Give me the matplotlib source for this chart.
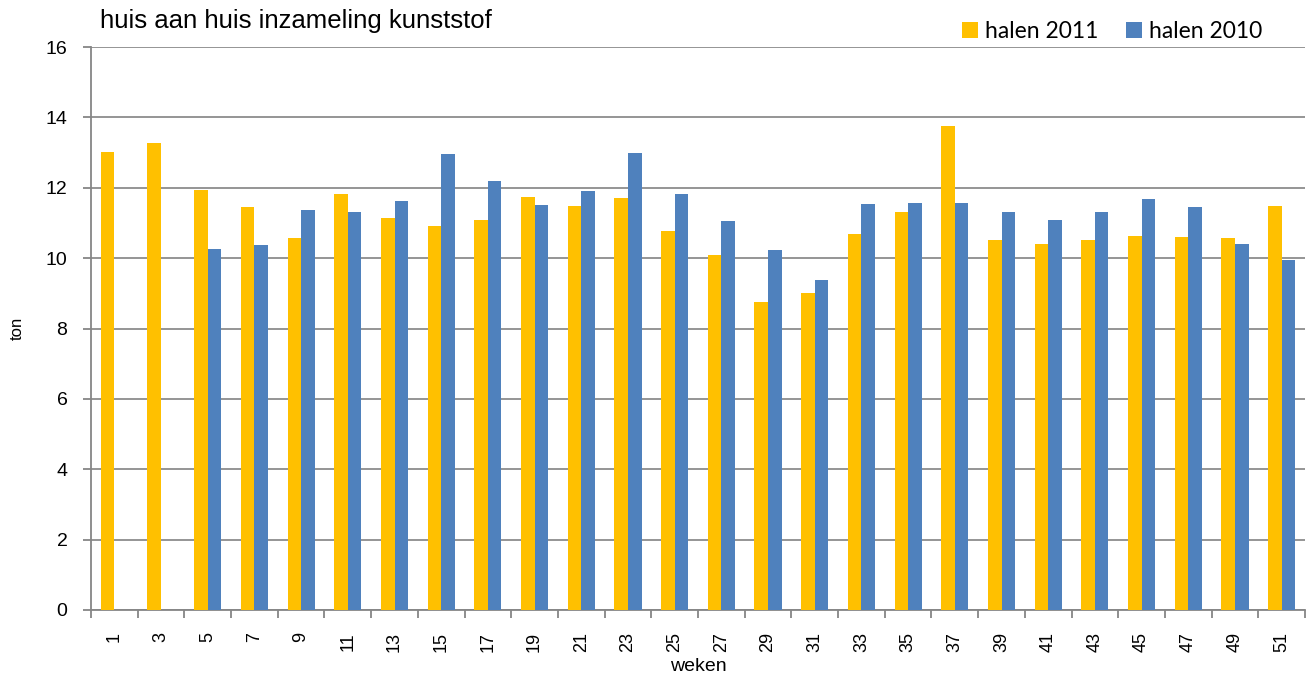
import matplotlib.pyplot as plt
import numpy as np

weeks = [1, 3, 5, 7, 9, 11, 13, 15, 17, 19, 21, 23, 25,
         27, 29, 31, 33, 35, 37, 39, 41, 43, 45, 47, 49, 51]
halen_2011 = [13.03, 13.27, 11.93, 11.46, 10.57, 11.82, 11.15, 10.91, 11.09, 11.74, 11.48, 11.72, 10.77,
              10.09, 8.76, 9.00, 10.68, 11.30, 13.75, 10.51, 10.39, 10.51, 10.63, 10.59, 10.57, 11.47]
halen_2010 = [np.nan, np.nan, 10.25, 10.36, 11.38, 11.31, 11.61, 12.97, 12.19, 11.52, 11.90, 12.98, 11.82,
              11.06, 10.22, 9.37, 11.55, 11.57, 11.57, 11.31, 11.08, 11.30, 11.67, 11.44, 10.39, 9.94]

plt.rcParams['font.family'] = ['Liberation Sans', 'DejaVu Sans']

fig = plt.figure(figsize=(13.08, 6.77), dpi=100)
ax = fig.add_axes([91 / 1308, 67 / 677, 1214 / 1308, 563 / 677])

x = np.arange(len(weeks))
w = 0.29
ax.bar(x - w / 2, halen_2011, width=w, color='#FFC000', label='halen 2011', zorder=3)
ax.bar(x + w / 2, halen_2010, width=w, color='#4F81BD', label='halen 2010', zorder=3)

ax.set_xlim(-0.5, len(weeks) - 0.5)
ax.set_ylim(0, 16)
ax.set_yticks(range(0, 17, 2))
ax.yaxis.grid(True, color='#8c8c8c', linewidth=1.3, zorder=0)

ax.set_xticks(x)
ax.set_xticklabels([str(wk) for wk in weeks], rotation=90, fontsize=13)
ax.set_xticks(np.arange(-0.5, len(weeks)), minor=True)
ax.tick_params(axis='x', which='major', length=0, pad=16)
ax.tick_params(axis='x', which='minor', length=6, color='#868686', width=1.3)
ax.tick_params(axis='y', length=6, color='#868686', width=1.3, labelsize=14, pad=11)

for s in ['top', 'right']:
    ax.spines[s].set_visible(False)
for s in ['left', 'bottom']:
    ax.spines[s].set_color('#868686')
    ax.spines[s].set_linewidth(1.3)

ax.set_ylabel('ton', fontsize=12)
ax.yaxis.set_label_coords(-66 / 1214, 0.5)
ax.set_xlabel('weken', fontsize=14)
ax.xaxis.set_label_coords(0.5, -0.085)

fig.text(100 / 1308, 1 - 21 / 677, 'huis aan huis inzameling kunststof', fontsize=18.5, va='center')

fig.legend(loc='upper right', bbox_to_anchor=(1283 / 1308, 1.0), ncol=2, frameon=False,
           prop={'family': 'Lato', 'size': 16.5}, handlelength=0.7, handleheight=0.7,
           handletextpad=0.3, columnspacing=1.2)

fig.savefig('out.png', dpi=100)
